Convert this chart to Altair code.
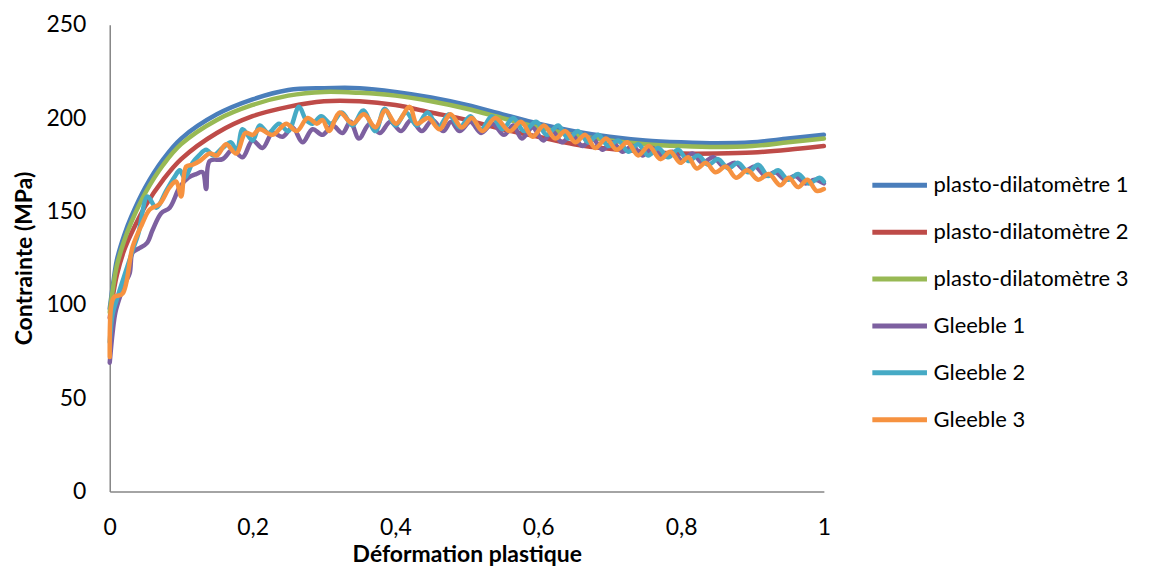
import altair as alt
import pandas as pd

series_names = ["plasto-dilatomètre 1", "plasto-dilatomètre 2", "plasto-dilatomètre 3",
                "Gleeble 1", "Gleeble 2", "Gleeble 3"]
series_colors = ["#4A7EBB", "#BE4B48", "#98B954", "#7D60A0", "#46AAC5", "#F69240"]

# smooth model curves
smooth_x = [0, 0.005, 0.01, 0.02, 0.03, 0.05, 0.075, 0.1, 0.15, 0.2, 0.25, 0.3, 0.35, 0.4,
            0.45, 0.5, 0.55, 0.6, 0.65, 0.7, 0.75, 0.8, 0.85, 0.9, 0.95, 1.0]
pd1_y = [98, 112, 124, 137, 147, 163, 178, 189, 202, 210, 215, 216, 216, 214,
         211, 207, 202, 197, 193, 190, 188, 187, 186.5, 187, 189, 191]
pd2_y = [93, 106, 116, 129, 138, 153, 167, 178, 192, 201, 206, 209, 209, 207,
         203, 199, 194, 190, 186, 183.5, 182, 181, 181, 181.5, 183, 185]
pd3_y = [96, 110, 121, 134, 144, 160, 175, 186, 199, 207, 212, 214, 213.5, 212,
         209, 205, 200, 195, 191, 188, 186, 185, 184.5, 185, 187, 189]

g1_x = [0, 0.004, 0.008, 0.015, 0.022, 0.028, 0.032, 0.04, 0.052, 0.06, 0.072, 0.084, 0.098,
        0.11, 0.121, 0.13, 0.135, 0.14, 0.158, 0.172, 0.186, 0.2, 0.214, 0.228, 0.242, 0.256,
        0.27, 0.284, 0.298, 0.312, 0.326, 0.337, 0.349, 0.364, 0.378, 0.393, 0.408, 0.422,
        0.437, 0.452, 0.467, 0.478, 0.49, 0.505, 0.52, 0.536, 0.552, 0.565, 0.577, 0.592,
        0.607, 0.62, 0.633, 0.647, 0.662, 0.676, 0.69, 0.704, 0.718, 0.732, 0.746, 0.76,
        0.774, 0.788, 0.802, 0.816, 0.83, 0.845, 0.86, 0.876, 0.89, 0.904, 0.918, 0.932,
        0.946, 0.96, 0.974, 0.987, 1.0]
g1_y = [69, 85, 96, 105, 112, 117, 128, 130, 133, 140, 149, 152, 163,
        168, 170, 171, 162, 177, 178, 183, 179, 188, 184, 192, 190, 195,
        187, 194, 191, 196, 192, 198, 189, 197, 192, 198, 193, 199,
        193, 199, 193, 198, 193, 198, 192, 197, 191, 196, 189, 195,
        188, 193, 187, 191, 185, 189, 183, 187, 182, 185, 180, 184,
        179, 182, 177, 181, 176, 179, 174, 176, 172, 174, 169, 171,
        167, 169, 165, 167, 165]

g2_x = [0, 0.004, 0.01, 0.02, 0.032, 0.04, 0.053, 0.065, 0.079, 0.09, 0.098, 0.105, 0.116,
        0.125, 0.135, 0.145, 0.158, 0.17, 0.178, 0.186, 0.2, 0.21, 0.222, 0.237, 0.25,
        0.265, 0.275, 0.284, 0.296, 0.31, 0.325, 0.34, 0.355, 0.372, 0.385, 0.4, 0.415,
        0.43, 0.445, 0.46, 0.475, 0.49, 0.505, 0.52, 0.535, 0.55, 0.565, 0.58, 0.597,
        0.612, 0.628, 0.642, 0.656, 0.67, 0.684, 0.698, 0.712, 0.726, 0.74, 0.754, 0.768,
        0.782, 0.796, 0.81, 0.824, 0.838, 0.852, 0.866, 0.88, 0.894, 0.908, 0.922, 0.936,
        0.95, 0.964, 0.979, 0.994, 1.0]
g2_y = [80, 95, 103, 115, 129, 138, 158, 152, 161, 168, 172, 168, 176,
        180, 183, 180, 184, 187, 182, 194, 188, 196, 192, 197, 193,
        206, 199, 197, 201, 197, 203, 196, 204, 193, 205, 196, 203,
        196, 203, 195, 202, 195, 201, 194, 201, 194, 200, 193, 198,
        191, 196, 189, 193, 187, 191, 185, 188, 182, 186, 180, 184,
        179, 183, 177, 180, 175, 178, 173, 176, 171, 175, 169, 172,
        167, 170, 165, 168, 166]

g3_x = [0, 0.002, 0.006, 0.018, 0.032, 0.045, 0.056, 0.07, 0.084, 0.093, 0.1, 0.107, 0.116,
        0.126, 0.14, 0.15, 0.163, 0.177, 0.19, 0.2, 0.21, 0.228, 0.247, 0.262, 0.277, 0.29,
        0.298, 0.307, 0.322, 0.34, 0.356, 0.372, 0.386, 0.401, 0.42, 0.43, 0.446, 0.462,
        0.477, 0.493, 0.507, 0.522, 0.54, 0.56, 0.576, 0.592, 0.608, 0.624, 0.638, 0.652,
        0.666, 0.68, 0.695, 0.71, 0.725, 0.74, 0.755, 0.771, 0.785, 0.799, 0.81, 0.822,
        0.835, 0.848, 0.863, 0.877, 0.893, 0.908, 0.923, 0.939, 0.951, 0.964, 0.977, 0.99, 1.0]
g3_y = [72, 99, 104, 106, 131, 143, 151, 154, 163, 166, 158, 174, 175,
        177, 181, 180, 186, 181, 192, 191, 194, 191, 197, 193, 200, 197,
        199, 193, 203, 197, 202, 195, 204, 197, 206, 197, 200, 194,
        202, 195, 200, 193, 200, 193, 198, 190, 196, 189, 193, 187,
        191, 184, 189, 183, 187, 180, 185, 178, 182, 176, 179, 173,
        176, 171, 174, 168, 172, 167, 170, 164, 168, 163, 167, 161, 162]

x_ticks = [0, 0.2, 0.4, 0.6, 0.8, 1]
y_ticks = [0, 50, 100, 150, 200, 250]

all_series = [
    (series_names[0], smooth_x, pd1_y),
    (series_names[1], smooth_x, pd2_y),
    (series_names[2], smooth_x, pd3_y),
    (series_names[3], g1_x, g1_y),
    (series_names[4], g2_x, g2_y),
    (series_names[5], g3_x, g3_y),
]
rows = []
for k, (name, xs, ys) in enumerate(all_series):
    for i, (a, b) in enumerate(zip(xs, ys)):
        rows.append({"serie": name, "k": k, "x": a, "y": b, "i": i})
df = pd.DataFrame(rows)

FONT = "Lato"
FS = 23
axis_common = dict(grid=False, ticks=False, domainColor="#868686", domainWidth=1.5,
                   labelFont=FONT, labelFontSize=FS, labelColor="#000000", labelFlush=False,
                   titleFont=FONT, titleFontSize=FS, titleFontWeight="bold", titleColor="#000000")

chart = alt.Chart(df).mark_line(strokeWidth=4.5, interpolate="catmull-rom",
                                strokeCap="round", strokeJoin="round").encode(
    x=alt.X("x:Q", scale=alt.Scale(domain=[0, 1], nice=False, zero=False),
            axis=alt.Axis(values=x_ticks, labelExpr="replace(toString(datum.value), '.', ',')",
                          labelPadding=25, title="Déformation plastique", titlePadding=4,
                          **axis_common)),
    y=alt.Y("y:Q", scale=alt.Scale(domain=[0, 250], nice=False),
            axis=alt.Axis(values=y_ticks, labelPadding=24, title="Contrainte (MPa)",
                          titlePadding=9, **axis_common)),
    color=alt.Color("serie:N", scale=alt.Scale(domain=series_names, range=series_colors),
                    legend=alt.Legend(title=None, orient="none", legendX=762, legendY=131,
                                      symbolType="stroke", symbolSize=3000, symbolStrokeWidth=5,
                                      labelFont=FONT, labelFontSize=22, labelColor="#000000",
                                      labelOffset=4, labelLimit=500, rowPadding=6)),
    detail="k:N",
    order="i:Q",
).properties(
    width=716, height=468,
    autosize=alt.AutoSizeParams(type="none"),
    padding={"left": 102, "top": 16, "right": 330, "bottom": 80},
).configure_view(stroke=None)

chart.save("out.html", embed_options={"renderer": "svg", "actions": False})
